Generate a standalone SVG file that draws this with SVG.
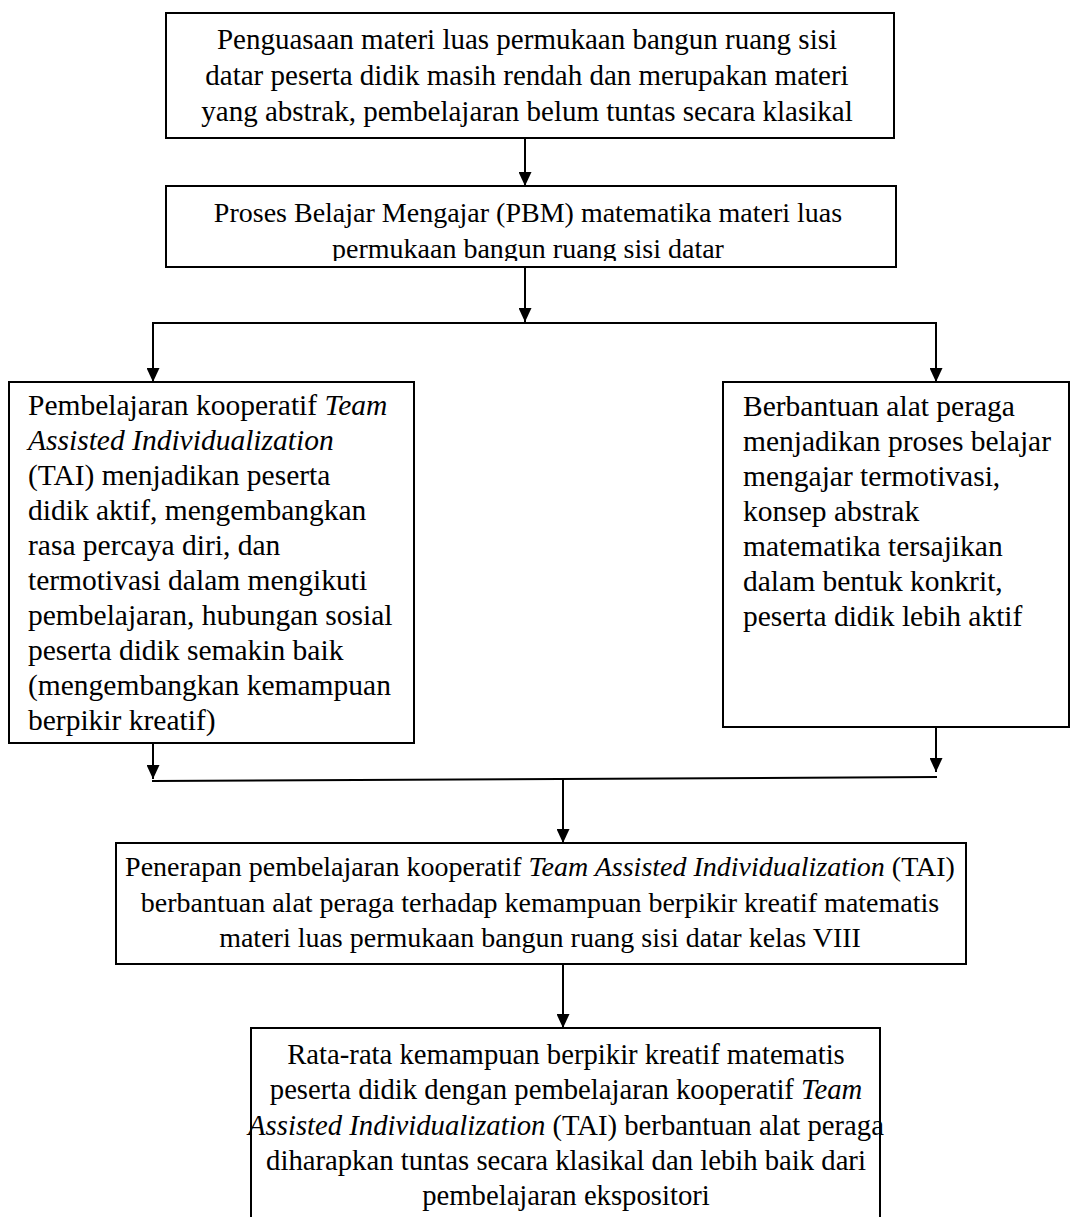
<svg xmlns="http://www.w3.org/2000/svg" width="1071" height="1217" viewBox="0 0 1071 1217">
<style>
  .box { fill: #ffffff; stroke: #000000; stroke-width: 2; }
  .t { font-family: "Liberation Serif", "Times New Roman", serif; font-size: 28px; fill: #000000; }
  .c { text-anchor: middle; }
  .i { font-style: italic; }
  .f29 { font-size: 29px; }
  .f295 { font-size: 29.5px; }
  .f287 { font-size: 28.7px; }
  .conn { fill: none; stroke: #000000; stroke-width: 2; }
</style>
<defs>
  <marker id="arrow" markerUnits="userSpaceOnUse" markerWidth="14" markerHeight="13" viewBox="0 0 14 13" refX="14" refY="6.5" orient="auto">
    <path d="M0,0 L14,6.5 L0,13 z" fill="#000000"/>
  </marker>
  <clipPath id="pbmClip">
    <rect x="167" y="187" width="728" height="74"/>
  </clipPath>
</defs>
<rect width="1071" height="1217" fill="#ffffff"/>

<g id="connectors">
  <line class="conn" x1="525" y1="138" x2="525" y2="186" marker-end="url(#arrow)"/>
  <line class="conn" x1="525" y1="267" x2="525" y2="322" marker-end="url(#arrow)"/>
  <line class="conn" x1="152" y1="323" x2="937" y2="323"/>
  <line class="conn" x1="153" y1="322" x2="153" y2="382" marker-end="url(#arrow)"/>
  <line class="conn" x1="936" y1="322" x2="936" y2="382" marker-end="url(#arrow)"/>
  <line class="conn" x1="153" y1="743" x2="153" y2="779" marker-end="url(#arrow)"/>
  <line class="conn" x1="936" y1="727" x2="936" y2="772" marker-end="url(#arrow)"/>
  <line class="conn" x1="152" y1="781" x2="937" y2="777"/>
  <line class="conn" x1="563" y1="779" x2="563" y2="843" marker-end="url(#arrow)"/>
  <line class="conn" x1="563" y1="964" x2="563" y2="1028" marker-end="url(#arrow)"/>
</g>

<g id="node-masalah">
  <rect class="box" x="166" y="13" width="728" height="125"/>
  <text class="t c f29" x="527" y="49">Penguasaan materi luas permukaan bangun ruang sisi</text>
  <text class="t c f29" x="527" y="85">datar peserta didik masih rendah dan merupakan materi</text>
  <text class="t c f29" x="527" y="121">yang abstrak, pembelajaran belum tuntas secara klasikal</text>
</g>

<g id="node-pbm">
  <rect class="box" x="166" y="186" width="730" height="81"/>
  <g clip-path="url(#pbmClip)">
    <text class="t c" x="528" y="222">Proses Belajar Mengajar (PBM) matematika materi luas</text>
    <text class="t c" x="528" y="258">permukaan bangun ruang sisi datar</text>
  </g>
</g>

<g id="node-tai">
  <rect class="box" x="9" y="382" width="405" height="361"/>
  <text class="t f295" x="28" y="415">Pembelajaran kooperatif <tspan class="i">Team</tspan></text>
  <text class="t i f295" x="28" y="450">Assisted Individualization</text>
  <text class="t f295" x="28" y="485">(TAI) menjadikan peserta</text>
  <text class="t f295" x="28" y="520">didik aktif, mengembangkan</text>
  <text class="t f295" x="28" y="555">rasa percaya diri, dan</text>
  <text class="t f295" x="28" y="590">termotivasi dalam mengikuti</text>
  <text class="t f295" x="28" y="625">pembelajaran, hubungan sosial</text>
  <text class="t f295" x="28" y="660">peserta didik semakin baik</text>
  <text class="t f295" x="28" y="695">(mengembangkan kemampuan</text>
  <text class="t f295" x="28" y="730">berpikir kreatif)</text>
</g>

<g id="node-alat-peraga">
  <rect class="box" x="723" y="382" width="346" height="345"/>
  <text class="t f295" x="743" y="416">Berbantuan alat peraga</text>
  <text class="t f295" x="743" y="451">menjadikan proses belajar</text>
  <text class="t f295" x="743" y="486">mengajar termotivasi,</text>
  <text class="t f295" x="743" y="521">konsep abstrak</text>
  <text class="t f295" x="743" y="556">matematika tersajikan</text>
  <text class="t f295" x="743" y="591">dalam bentuk konkrit,</text>
  <text class="t f295" x="743" y="626">peserta didik lebih aktif</text>
</g>

<g id="node-penerapan">
  <rect class="box" x="116" y="843" width="850" height="121"/>
  <text class="t c" x="540" y="876">Penerapan pembelajaran kooperatif <tspan class="i">Team Assisted Individualization</tspan> (TAI)</text>
  <text class="t c" x="540" y="912">berbantuan alat peraga terhadap kemampuan berpikir kreatif matematis</text>
  <text class="t c" x="540" y="947">materi luas permukaan bangun ruang sisi datar kelas VIII</text>
</g>

<g id="node-hipotesis">
  <rect class="box" x="251" y="1028" width="629" height="220"/>
  <text class="t c f287" x="566" y="1064">Rata-rata kemampuan berpikir kreatif matematis</text>
  <text class="t c f287" x="566" y="1099">peserta didik dengan pembelajaran kooperatif <tspan class="i">Team</tspan></text>
  <text class="t c f287" x="566" y="1135"><tspan class="i">Assisted Individualization</tspan> (TAI) berbantuan alat peraga</text>
  <text class="t c f287" x="566" y="1170">diharapkan tuntas secara klasikal dan lebih baik dari</text>
  <text class="t c f287" x="566" y="1205">pembelajaran ekspositori</text>
</g>
</svg>
